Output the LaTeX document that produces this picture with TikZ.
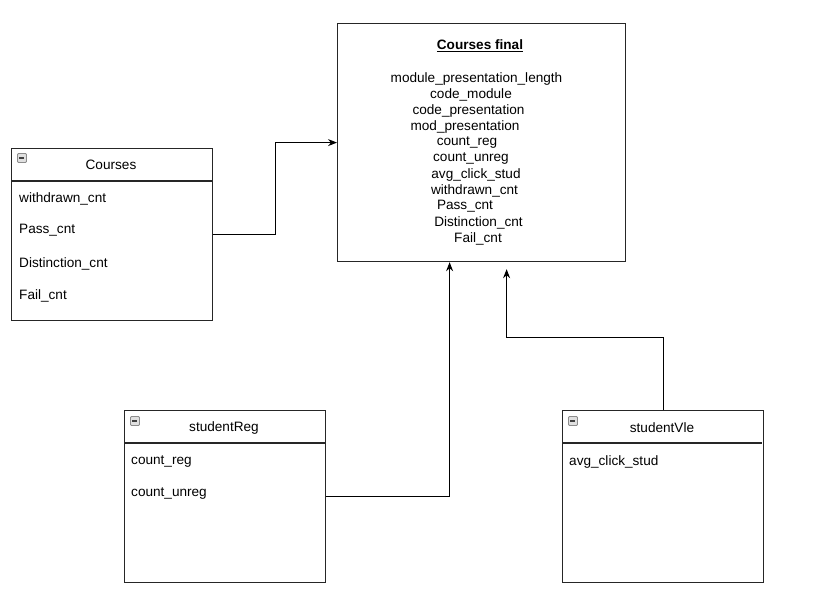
\documentclass[tikz,border=0pt]{standalone}
\usepackage{fontspec}
\setmainfont{Liberation Sans}
\usetikzlibrary{arrows.meta}
\begin{document}
\begin{tikzpicture}[x=1pt,y=-1pt,
  every node/.style={font=\fontsize{13.6}{16}\selectfont},
  table/.style={draw=black!85, line width=1.2pt, fill=white, anchor=north west,
    minimum width=201pt, minimum height=172pt, inner sep=0pt},
  finalbox/.style={draw=black!85, line width=1.2pt, fill=white, anchor=north west,
    minimum width=288pt, minimum height=238pt, inner sep=0pt},
  attr/.style={anchor=west, inner sep=0pt, yshift=-1.5pt},
  line/.style={anchor=center, inner sep=0pt, yshift=-1.5pt},
  head/.style={anchor=center, inner sep=0pt, yshift=-1pt},
  arr/.style={draw=black, line width=1.1pt, -{Stealth[length=9pt,width=7pt]}},
  foldicon/.style={draw=black!45, fill=black!12, rounded corners=1pt, line width=0.8pt,
    minimum width=9pt, minimum height=9pt, inner sep=0pt, anchor=center}
]
\useasboundingbox (0,0) rectangle (828,615);

% target table
\node[finalbox] (final) at (337,23) {};
\node[head] (ftitle) at (480,45) {\underline{\textbf{Courses final}}};
\node[line] (f1)  at (476.5,77)  {module\_presentation\_length};
\node[line] (f2)  at (471,93)    {code\_module};
\node[line] (f3)  at (468.5,109) {code\_presentation};
\node[line] (f4)  at (465,125)   {mod\_presentation};
\node[line] (f5)  at (467,141)   {count\_reg};
\node[line] (f6)  at (471,157)   {count\_unreg};
\node[line] (f7)  at (476,173)   {avg\_click\_stud};
\node[line] (f8)  at (474.5,189) {withdrawn\_cnt};
\node[line] (f9)  at (465,205)   {Pass\_cnt};
\node[line] (f10) at (478.5,221) {Distinction\_cnt};
\node[line] (f11) at (478,237)   {Fail\_cnt};

% Courses table
\node[table] (courses) at (11,148) {};
\draw[draw=black!85, line width=1.2pt] (courses.north west) ++(0,33) -- ++(201,0);
\node[foldicon] (cicon) at (22,158) {};
\draw[black!75, line width=1.3pt] (cicon.west) ++(2,0) -- ++(5,0);
\node[head] (ctitle) at (111,164) {Courses};
\node[attr] (c1) at (19,197) {withdrawn\_cnt};
\node[attr] (c2) at (19,229) {Pass\_cnt};
\node[attr] (c3) at (19,262) {Distinction\_cnt};
\node[attr] (c4) at (19,294) {Fail\_cnt};

% studentReg table
\node[table] (reg) at (124,410) {};
\draw[draw=black!85, line width=1.2pt] (reg.north west) ++(0,33) -- ++(201,0);
\node[foldicon] (ricon) at (135,421) {};
\draw[black!75, line width=1.3pt] (ricon.west) ++(2,0) -- ++(5,0);
\node[head] (rtitle) at (224,427) {studentReg};
\node[attr] (r1) at (131,460) {count\_reg};
\node[attr] (r2) at (131,492) {count\_unreg};

% studentVle table
\node[table] (vle) at (562,410) {};
\draw[draw=black!85, line width=1.2pt] (vle.north west) ++(0,33) -- ++(200,0);
\node[foldicon] (vicon) at (573,421) {};
\draw[black!75, line width=1.3pt] (vicon.west) ++(2,0) -- ++(5,0);
\node[head] (vtitle) at (662,427) {studentVle};
\node[attr] (v1) at (569,460) {avg\_click\_stud};

% connectors
\draw[arr] (courses.east) -- ++(62,0) |- (final.west);
\draw[arr] (reg.east) -| ([xshift=-32pt]final.south);
\coordinate (vleend) at ([xshift=25pt,yshift=-7pt]final.south);
\draw[arr] (vle.north) |- ([yshift=-68pt]vleend) -- (vleend);
\end{tikzpicture}
\end{document}
